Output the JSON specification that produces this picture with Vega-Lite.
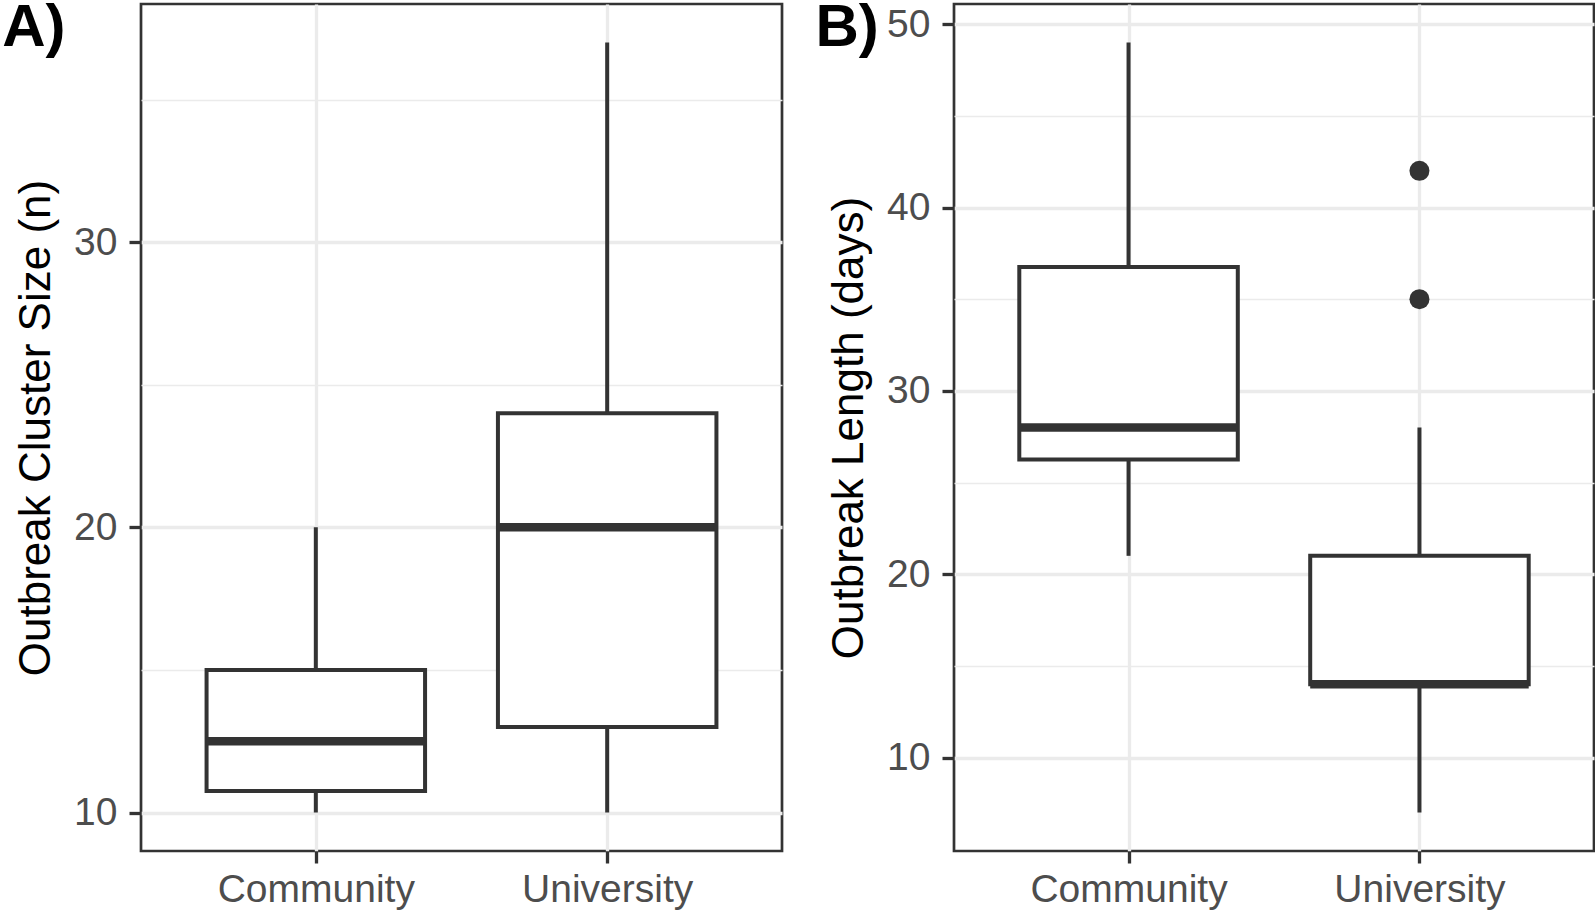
{
  "$schema": "https://vega.github.io/schema/vega-lite/v6.json",
  "background": "white",
  "padding": {"left": 0, "top": -5, "right": 0, "bottom": 0},
  "bounds": "flush",
  "spacing": 172,
  "datasets": {
    "boxA": [
      {"setting": "Community", "lower": 10, "q1": 10.75, "median": 12.5, "q3": 15, "upper": 20},
      {"setting": "University", "lower": 10, "q1": 13, "median": 20, "q3": 24, "upper": 37}
    ],
    "boxB": [
      {"setting": "Community", "lower": 21, "q1": 26.25, "median": 28, "q3": 36.75, "upper": 49},
      {"setting": "University", "lower": 7, "q1": 14, "median": 14, "q3": 21, "upper": 28}
    ],
    "outB": [
      {"setting": "University", "value": 42},
      {"setting": "University", "value": 35}
    ]
  },
  "hconcat": [
    {
      "width": 641,
      "height": 847,
      "data": {"name": "boxA"},
      "encoding": {
        "x": {"field": "setting", "type": "nominal", "sort": ["Community", "University"], "scale": {"type": "point", "padding": 0.6}, "axis": {"title": null, "labelAngle": 0, "grid": true, "labelPadding": 7, "labelLimit": 0}}
      },
      "layer": [
        {
          "mark": {"type": "rule", "strokeWidth": 4, "color": "#333333", "opacity": 1},
          "encoding": {
            "y": {"field": "lower", "type": "quantitative", "scale": {"domain": [8.65, 38.35], "nice": false, "zero": false},
                  "axis": {"values": [10, 20, 30], "title": "Outbreak Cluster Size (n)", "grid": true, "labelPadding": 12, "titlePadding": 15}},
            "y2": {"field": "q1"}
          }
        },
        {
          "mark": {"type": "rule", "strokeWidth": 4, "color": "#333333", "opacity": 1},
          "encoding": {
            "y": {"field": "q3", "type": "quantitative",
                  "axis": {"values": [15, 25, 35], "orient": "right", "labels": false, "ticks": false, "domain": false, "grid": true, "gridWidth": 1.7,
                           "title": "A)", "titleX": -780.3, "titleY": 41, "titleAngle": 0, "titleAlign": "left", "titleBaseline": "alphabetic", "titleFontSize": 60, "titleFontWeight": "bold"}},
            "y2": {"field": "upper"}
          }
        },
        {
          "mark": {"type": "bar", "size": 218.5, "fill": "white", "stroke": "#333333", "strokeWidth": 4, "opacity": 1},
          "encoding": {
            "y": {"field": "q1", "type": "quantitative", "axis": null},
            "y2": {"field": "q3"}
          }
        },
        {
          "mark": {"type": "tick", "size": 218.5, "thickness": 8.5, "color": "#333333", "opacity": 1},
          "encoding": {
            "y": {"field": "median", "type": "quantitative", "axis": null}
          }
        }
      ],
      "resolve": {"axis": {"y": "independent"}}
    },
    {
      "width": 640,
      "height": 847,
      "data": {"name": "boxB"},
      "encoding": {
        "x": {"field": "setting", "type": "nominal", "sort": ["Community", "University"], "scale": {"type": "point", "padding": 0.6}, "axis": {"title": null, "labelAngle": 0, "grid": true, "labelPadding": 7, "labelLimit": 0}}
      },
      "layer": [
        {
          "mark": {"type": "rule", "strokeWidth": 4, "color": "#333333", "opacity": 1},
          "encoding": {
            "y": {"field": "lower", "type": "quantitative", "scale": {"domain": [4.9, 51.1], "nice": false, "zero": false},
                  "axis": {"values": [10, 20, 30, 40, 50], "title": "Outbreak Length (days)", "grid": true, "labelPadding": 12, "titlePadding": 15}},
            "y2": {"field": "q1"}
          }
        },
        {
          "mark": {"type": "rule", "strokeWidth": 4, "color": "#333333", "opacity": 1},
          "encoding": {
            "y": {"field": "q3", "type": "quantitative",
                  "axis": {"values": [15, 25, 35, 45], "orient": "right", "labels": false, "ticks": false, "domain": false, "grid": true, "gridWidth": 1.7,
                           "title": "B)", "titleX": -779, "titleY": 41, "titleAngle": 0, "titleAlign": "left", "titleBaseline": "alphabetic", "titleFontSize": 60, "titleFontWeight": "bold"}},
            "y2": {"field": "upper"}
          }
        },
        {
          "mark": {"type": "bar", "size": 218.5, "fill": "white", "stroke": "#333333", "strokeWidth": 4, "opacity": 1},
          "encoding": {
            "y": {"field": "q1", "type": "quantitative", "axis": null},
            "y2": {"field": "q3"}
          }
        },
        {
          "mark": {"type": "tick", "size": 218.5, "thickness": 8.5, "color": "#333333", "opacity": 1},
          "encoding": {
            "y": {"field": "median", "type": "quantitative", "axis": null}
          }
        },
        {
          "data": {"name": "outB"},
          "mark": {"type": "point", "filled": true, "size": 400, "color": "#333333", "opacity": 1, "strokeWidth": 0},
          "encoding": {
            "y": {"field": "value", "type": "quantitative", "axis": null}
          }
        }
      ],
      "resolve": {"axis": {"y": "independent"}}
    }
  ],
  "config": {
    "font": "Liberation Sans",
    "view": {"stroke": "#333333", "strokeWidth": 2.7, "fill": "white"},
    "axis": {
      "domain": false,
      "gridColor": "#EBEBEB",
      "gridWidth": 3.3,
      "gridOpacity": 1,
      "tickColor": "#333333",
      "tickWidth": 3.3,
      "tickSize": 12,
      "labelFont": "Liberation Sans",
      "labelFontSize": 39,
      "labelColor": "#4D4D4D",
      "titleFont": "Liberation Sans",
      "titleFontSize": 44,
      "titleFontWeight": "normal",
      "titleColor": "black"
    }
  }
}
